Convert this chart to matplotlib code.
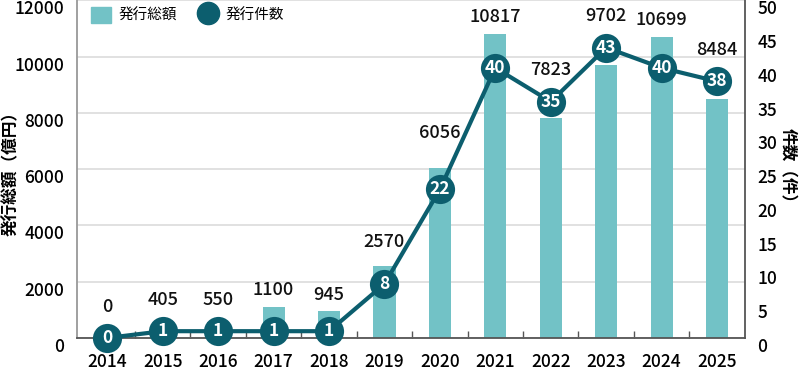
import numpy as np
import matplotlib
matplotlib.use("Agg")
import matplotlib.pyplot as plt
from matplotlib.patches import Patch
from matplotlib.lines import Line2D

plt.rcParams['font.family'] = ['Noto Sans CJK JP', 'DejaVu Sans']

# データ
years = ['2014', '2015', '2016', '2017', '2018', '2019', '2020',
         '2021', '2022', '2023', '2024', '2025']
amounts = [0, 405, 550, 1100, 945, 2570, 6056, 10817, 7823, 9702, 10699, 8484]  # 発行総額（億円）
counts = [0, 1, 1, 1, 1, 8, 22, 40, 35, 43, 40, 38]  # 発行件数（件）

bar_color = '#72C2C6'
line_color = '#0C5E6E'

fig = plt.figure(figsize=(8, 3.73), dpi=100)
ax = fig.add_axes([0.096, 0.094, 0.835, 0.905])
ax2 = ax.twinx()

x = np.arange(len(years))
ax.bar(x, amounts, width=0.4, color=bar_color, zorder=2)

ax.set_xlim(-0.55, 11.5)
ax.set_ylim(0, 12000)
ax.set_yticks(np.arange(0, 12001, 2000))
ax.yaxis.grid(True, color='#dcdcdc', lw=1.2)
ax.set_axisbelow(True)

ax.set_xticks(x)
ax.set_xticklabels(years)
ax.set_xticks(x[:-1] + 0.5, minor=True)
ax.tick_params(axis='x', which='major', length=0, pad=11, labelsize=12.5)
ax.tick_params(axis='x', which='minor', direction='in', length=5, width=1, color='#555555')
ax.tick_params(axis='y', length=0, pad=9, labelsize=12.5)
for lbl in ax.get_yticklabels() + ax.get_xticklabels():
    lbl.set_fontweight('medium')
for lbl in ax.get_yticklabels():
    lbl.set_va('top')

for s in ['top', 'right']:
    ax.spines[s].set_visible(False)
ax.spines['left'].set_color('#999999')
ax.spines['left'].set_linewidth(1.3)
ax.spines['bottom'].set_color('#555555')
ax.spines['bottom'].set_linewidth(1.3)

# 件数の折れ線
ax2.set_ylim(0, 50)
ax2.set_yticks(np.arange(0, 51, 5))
ax2.plot(x, counts, color=line_color, lw=3, marker='o', markersize=21,
         markeredgewidth=0, clip_on=False, zorder=3)
for xi, c in zip(x, counts):
    ax2.text(xi, c, str(c), color='white', fontsize=12.5, fontweight='bold',
             ha='center', va='center', zorder=4)
ax2.tick_params(axis='y', length=0, pad=9, labelsize=12.5)
for lbl in ax2.get_yticklabels():
    lbl.set_va('top')
    lbl.set_fontweight('medium')
for s in ['top', 'left', 'bottom']:
    ax2.spines[s].set_visible(False)
ax2.spines['right'].set_color('#555555')
ax2.spines['right'].set_linewidth(1.3)

# 棒ラベル（棒か円の上に配置）
radius = 14.5 / (ax.get_position().height * fig.get_figheight() * fig.dpi) * 12000
nudge = {'2019': 5, '2020': 13}
for xi, yr, a, c in zip(x, years, amounts, counts):
    top = max(a, c * 12000 / 50 + radius)
    ax.annotate(str(a), (xi, top), xytext=(0, 12 + nudge.get(yr, 0)),
                textcoords='offset points', ha='center', va='center',
                fontsize=13, fontweight='medium', color='#111111', zorder=5)

ax.set_ylabel('発行総額（億円）', fontsize=12, fontweight='bold', va='center')
ax.yaxis.set_label_coords(-0.099, 0.5)
ax2.set_ylabel('件数（件）', fontsize=12, fontweight='bold', rotation=270,
               va='center')
ax2.yaxis.set_label_coords(1.064, 0.5)

handles = [Patch(color=bar_color),
           Line2D([], [], color=line_color, marker='o', markersize=16, lw=0)]
ax2.legend(handles, ['発行総額', '発行件数'], loc='upper left',
           bbox_to_anchor=(0.114, 0.981), bbox_transform=fig.transFigure,
           ncol=2, frameon=False, fontsize=10.5, handlelength=1.35,
           handleheight=1.25, handletextpad=0.55, columnspacing=1.4,
           borderpad=0, borderaxespad=0)

fig.savefig('out.png', dpi=100)
